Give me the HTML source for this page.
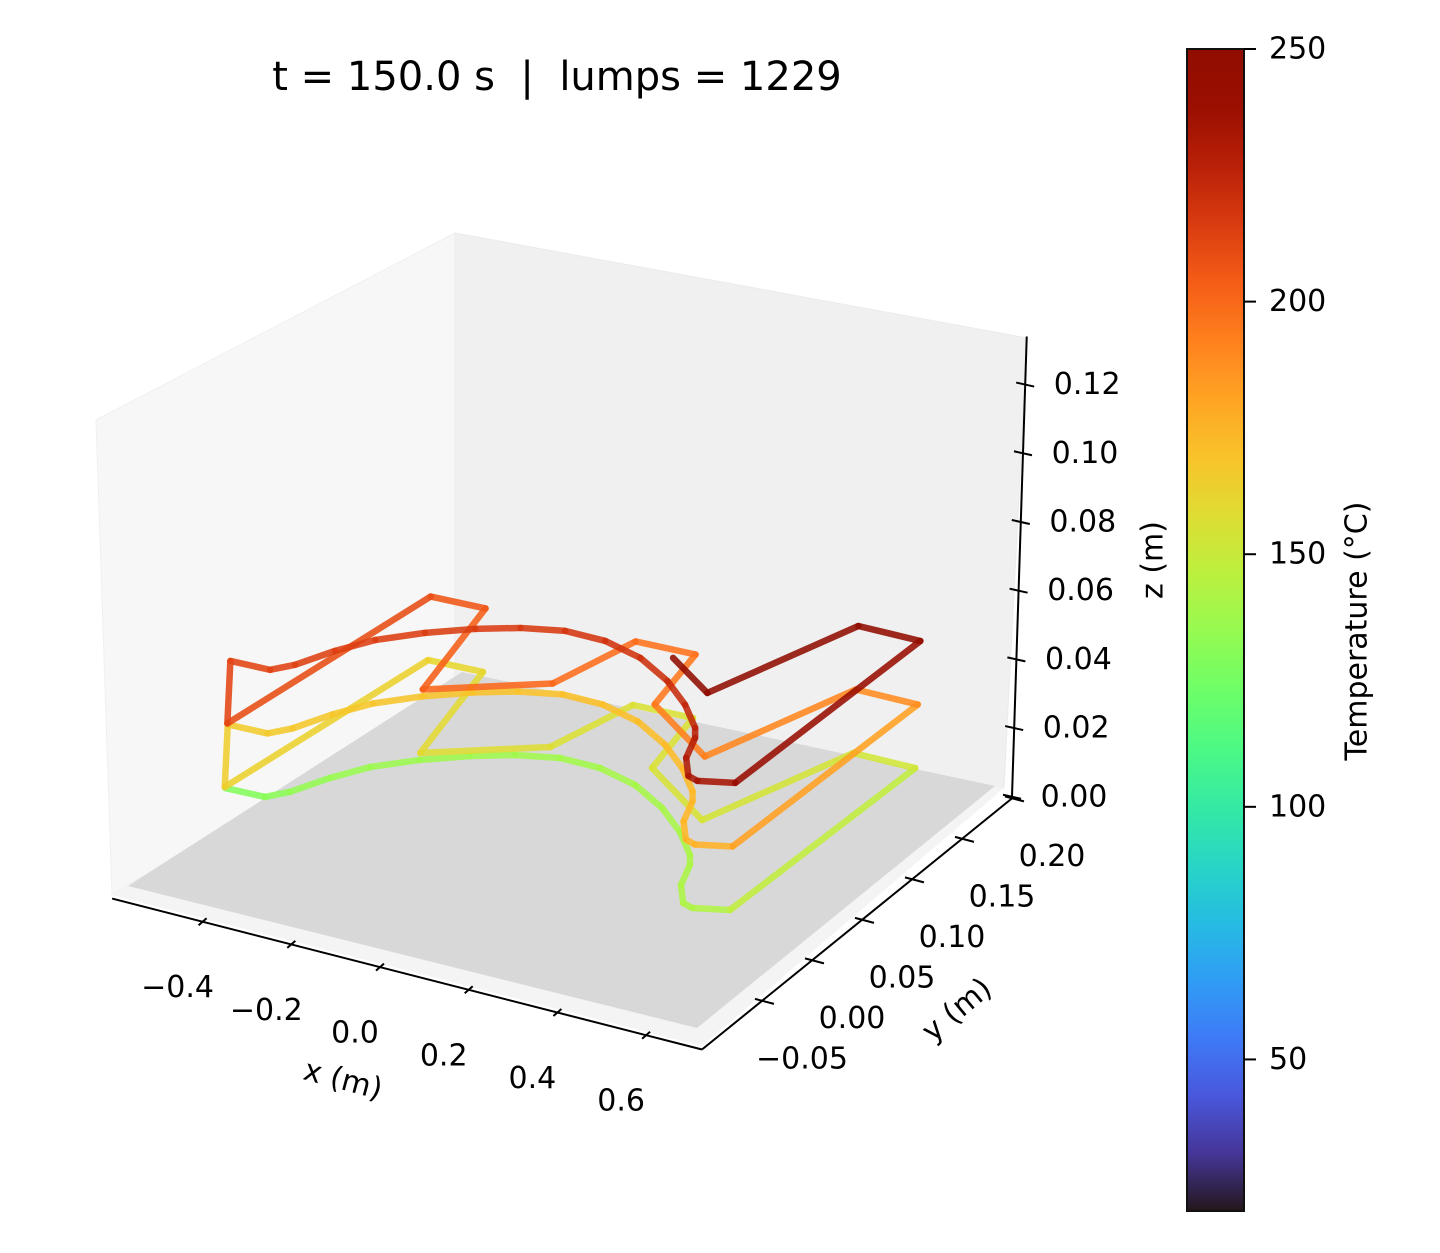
<!DOCTYPE html>
<html><head><meta charset="utf-8"><style>
html,body{margin:0;padding:0;background:#fff;}
svg text{font-family:"DejaVu Sans","Liberation Sans",sans-serif;fill:#000;}
</style></head><body>
<svg id="chart" width="1440" height="1248" viewBox="0 0 1440 1248" xmlns="http://www.w3.org/2000/svg">
<defs>
<linearGradient id="cbgrad" x1="0" y1="1" x2="0" y2="0"></linearGradient>
</defs>
<rect x="0" y="0" width="1440" height="1248" fill="#fff"/>
<text x="557" y="77" font-size="40" text-anchor="middle" dominant-baseline="central" style="white-space:pre" xml:space="preserve">t = 150.0 s  |  lumps = 1229</text>
<polygon points="96,420 455,233 455,682 112,895" fill="#f7f7f7" stroke="#f0f0f0"/>
<polygon points="455,233 1027,338 1004,788 455,682" fill="#f0f0f0" stroke="#ebebeb"/>
<polygon points="112,895 702,1046 1004,788 455,682" fill="#f4f4f4"/>
<polygon points="128,886 697,1028 995,786 462,672" fill="#d8d8d8"/>
<g id="marks"></g>
<g id="axes"></g>
<g id="colorbar"></g>
</svg>
<script>
// ---- data ----
const outlineX = [-0.644,-0.557,-0.525,-0.486,-0.440,-0.370,-0.292,-0.217,-0.134,-0.044,0.052,0.147,0.228,0.294,0.315,0.342,0.384,0.410,0.479,
                  0.496,0.358,0.241,0.045,0.0094,-0.121,-0.174,-0.384,-0.448,-0.567,-0.647];
const outlineY = [0.0208,0.022,0.0327,0.0554,0.0753,0.0939,0.1097,0.1214,0.1294,0.1296,0.1221,0.107,0.0888,0.0696,0.0602,0.0393,0.0229,0.0204,0.0276,
                  0.2052,0.2044,0.1053,0.1421,0.1988,0.1966,0.1373,0.1005,0.1916,0.1896,0.0217];
const layerZ = [0.0, 0.0185, 0.037];
const tempL0 = [128,130,133,135,136,137,137,138,138,139,139,140,140,141,141,141,142,142,143, 152,153,154,155,156,156,157,158,160,162,164];
const tempL1 = [165,166,167,168,168,169,169,170,170,171,171,172,172,173,173,174,174,175,176, 188,190,192,194,196,198,200,202,205,208,211];
const tempL2 = [212,213,213,214,214,215,215,216,217,218,219,221,223,225,227,229,231,233,235, 246,247,248];
const headX = 0.108, headY = 0.130, headTemp = 249;
const xTicks = [-0.4,-0.2,0.0,0.2,0.4,0.6];
const xTickLabels = ["\u22120.4","\u22120.2","0.0","0.2","0.4","0.6"];
const yTicks = [-0.05,0.0,0.05,0.10,0.15,0.20];
const yTickLabels = ["\u22120.05","0.00","0.05","0.10","0.15","0.20"];
const zTicks = [0,0.02,0.04,0.06,0.08,0.10,0.12];
const zTickLabels = ["0.00","0.02","0.04","0.06","0.08","0.10","0.12"];
const cbTicks = [50,100,150,200,250];
const xLim = [-0.604,0.726], yLim = [-0.11,0.202], zLim = [0,0.134];
const tMin = 20, tMax = 250;

// ---- projection ----
function proj(x,y,z){ return [490 + 443.5*x + 1000*y + 140*z, 878 + 113.5*x - 810*y - 3435*z]; }
function turbo(t){
  t=Math.max(0,Math.min(1,t));
  let r=0.13572138+t*(4.61539260+t*(-42.66032258+t*(132.13108234+t*(-152.94239396+t*59.28637943))));
  let g=0.09140261+t*(2.19418839+t*(4.84296658+t*(-14.18503333+t*(4.27729857+t*2.82956604))));
  let b=0.10667330+t*(12.64194608+t*(-60.58204836+t*(110.36276771+t*(-89.90310912+t*27.34824973))));
  const c=v=>Math.round(255*Math.max(0,Math.min(1,v)));
  return `rgb(${c(r)},${c(g)},${c(b)})`;
}
const NS="http://www.w3.org/2000/svg";
function mk(tag,attrs,parent){const e=document.createElementNS(NS,tag);for(const k in attrs)e.setAttribute(k,attrs[k]);parent.appendChild(e);return e;}

// ---- build path ----
const pts=[];
const temps=[tempL0,tempL1,tempL2];
for(let L=0;L<3;L++){
  const n=temps[L].length;
  for(let i=0;i<n;i++) pts.push([outlineX[i],outlineY[i],layerZ[L],temps[L][i]]);
}
pts.push([headX,headY,layerZ[2],headTemp]);
const marks=document.getElementById('marks');
for(let i=0;i<pts.length-1;i++){
  const a=proj(pts[i][0],pts[i][1],pts[i][2]), b=proj(pts[i+1][0],pts[i+1][1],pts[i+1][2]);
  const t=((pts[i][3]+pts[i+1][3])/2-tMin)/(tMax-tMin);
  const ln=mk('line',{x1:a[0],y1:a[1],x2:b[0],y2:b[1],stroke:turbo(t),'stroke-width':6.5,'stroke-linecap':'round','stroke-opacity':0.88},marks);
  
  
}

// ---- axes ----
const ax=document.getElementById('axes');
function line(p,q,name){const e=mk('line',{x1:p[0],y1:p[1],x2:q[0],y2:q[1],stroke:'#000','stroke-width':2},ax);return e;}
function text(x,y,s,size,name,extra){const e=mk('text',Object.assign({x:x,y:y,'font-size':size,'text-anchor':'middle','dominant-baseline':'central'},extra||{}),ax);e.textContent=s;return e;}
line(proj(xLim[0],yLim[0],0),proj(xLim[1],yLim[0],0),'x-axis-line');
line(proj(xLim[1],yLim[0],0),proj(xLim[1],yLim[1],0),'y-axis-line');
const zb=proj(xLim[1],yLim[1],0), zt=proj(xLim[1],yLim[1],zLim[1]);
line([zb[0]-2,zb[1]],[zt[0]-6,zt[1]],'z-axis-line');
xTicks.forEach((v,i)=>{const p=proj(v,yLim[0],0);
  line([p[0]-4,p[1]+3.5],[p[0]+4,p[1]-3.5],'x-tick');
  text(p[0]-25,p[1]+66,xTickLabels[i],30,'x-tick-label');});
yTicks.forEach((v,i)=>{const p=proj(xLim[1],v,0);
  line([p[0]-7,p[1]-2],[p[0]+12,p[1]+3],'y-tick');
  text(p[0]+40,p[1]+58,yTickLabels[i],30,'y-tick-label');});
zTicks.forEach((v,i)=>{const p=proj(xLim[1],yLim[1],v); const px=p[0]-2-4*v/zLim[1];
  line([px-9,p[1]-2],[px+9,p[1]+2],'z-tick');
  text(px+62,p[1],zTickLabels[i],30,'z-tick-label');});
text(343,1080,'x (m)',30,'x-axis-title',{transform:'rotate(15 343 1080)'});
text(957,1010,'y (m)',30,'y-axis-title',{transform:'rotate(-40 957 1010)'});
text(1153,560,'z (m)',30,'z-axis-title',{transform:'rotate(-90 1153 560)'});

// ---- colorbar ----
const cb=document.getElementById('colorbar');
const grad=document.getElementById('cbgrad');
for(let k=0;k<=20;k++){const s=mk('stop',{offset:k/20,'stop-color':turbo(k/20)},grad);}
const cbX=1187,cbW=57,cbTop=49,cbBot=1211;
const cy=v=>cbBot-(v-tMin)/(tMax-tMin)*(cbBot-cbTop);
const rect=mk('rect',{x:cbX,y:cbTop,width:cbW,height:cbBot-cbTop,fill:'url(#cbgrad)',stroke:'#111','stroke-width':2},cb);


cbTicks.forEach(v=>{const y=cy(v);
  const t=mk('line',{x1:cbX+cbW,y1:y,x2:cbX+cbW+12,y2:y,stroke:'#000','stroke-width':2},cb);
  
  
  const l=mk('text',{x:1269,y:y,'font-size':30,'dominant-baseline':'central'},cb);l.textContent=String(v);
  
  });
const cl=mk('text',{x:1357,y:631,'font-size':30,'text-anchor':'middle','dominant-baseline':'central',transform:'rotate(-90 1357 631)'},cb);
cl.textContent='Temperature (°C)';


</script>
</body></html>
